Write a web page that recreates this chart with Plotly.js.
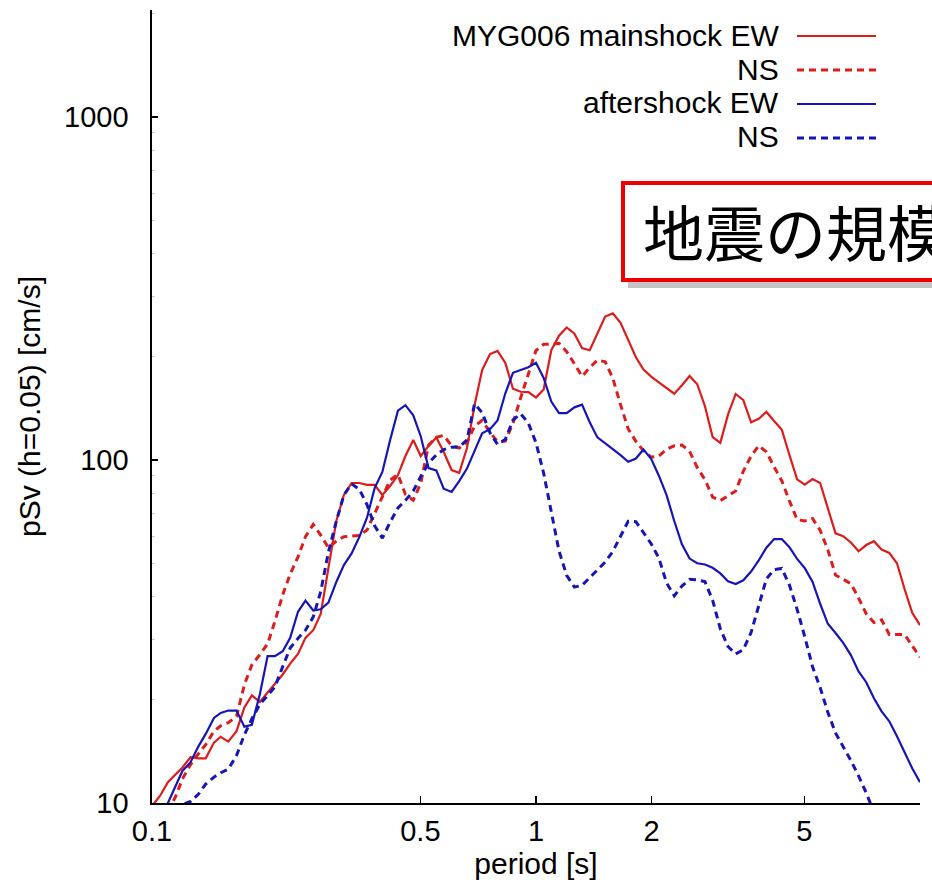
<!DOCTYPE html>
<html>
<head>
<meta charset="utf-8">
<script src="https://cdn.plot.ly/plotly-3.0.1.min.js"></script>
<style>
html, body { margin: 0; padding: 0; background: #ffffff; }
#chart { width: 932px; height: 893px; }
</style>
</head>
<body>
<div id="chart"></div>
<script>
// ---- data (period [s] vs pSv [cm/s], h = 0.05) ----
const periods = [0.1, 0.105, 0.11, 0.115, 0.12, 0.126, 0.132, 0.138, 0.145, 0.151,
  0.158, 0.166, 0.174, 0.182, 0.191, 0.2, 0.209, 0.219, 0.229, 0.24,
  0.251, 0.263, 0.275, 0.288, 0.302, 0.316, 0.331, 0.347, 0.363, 0.38,
  0.398, 0.417, 0.437, 0.457, 0.479, 0.501, 0.525, 0.55, 0.575, 0.603,
  0.631, 0.661, 0.692, 0.724, 0.759, 0.794, 0.832, 0.871, 0.912, 0.955,
  1.0, 1.047, 1.096, 1.148, 1.202, 1.259, 1.318, 1.38, 1.445, 1.514,
  1.585, 1.66, 1.738, 1.82, 1.905, 1.995, 2.089, 2.188, 2.291, 2.399,
  2.512, 2.63, 2.754, 2.884, 3.02, 3.162, 3.311, 3.467, 3.631, 3.802,
  3.981, 4.169, 4.365, 4.571, 4.786, 5.012, 5.248, 5.495, 5.754, 6.026,
  6.31, 6.607, 6.918, 7.244, 7.586, 7.943, 8.318, 8.71, 9.12, 9.55, 10.0];

const mainshockEW = [9.8, 10.5, 11.5, 12.1, 12.7, 13.6, 13.5, 13.5, 15.0, 15.6,
  15.1, 16.2, 19.0, 20.6, 19.7, 21.0, 22.3, 23.7, 25.5, 27.2,
  30.3, 31.9, 35.6, 47.8, 66.4, 79.1, 85.7, 85.7, 84.6, 84.6,
  79.1, 84.0, 90.4, 102.7, 114.4, 102.7, 109.9, 116.4, 105.5, 93.5,
  91.8, 108.4, 144.6, 183, 203.7, 208, 191.8, 161.4, 158.1, 157.7,
  152.2, 160.6, 209, 230.4, 243.4, 233.5, 212, 209, 233.4, 262,
  267.6, 251, 224, 199.3, 183.4, 175, 168.5, 162.6, 156.1, 165.1,
  175.8, 166.3, 143.5, 116.7, 112.2, 135.6, 155.8, 149.5, 128.8, 131.9,
  138.1, 129.9, 122.7, 103.4, 87.8, 84.8, 88.0, 85.7, 71.8, 61.1,
  60.0, 57.5, 54.2, 56.5, 58.0, 54.8, 53.6, 50.0, 42.0, 35.8, 33.0];

const mainshockNS = [7.6, 8.5, 9.4, 10.4, 11.75, 12.95, 13.9, 14.8, 16.2, 16.8,
  17.15, 17.9, 22.1, 25.3, 27.1, 29.1, 33.9, 40.5, 46.5, 52.2,
  59.8, 64.9, 60.4, 55.5, 58.0, 59.8, 60.0, 60.3, 62.5, 69.8,
  78.8, 87.4, 90.7, 79.4, 76.4, 85.6, 110.5, 116.4, 118, 110,
  108.4, 112.3, 125.6, 130.4, 120.5, 113, 113.5, 128, 151.8, 178,
  208.6, 217.5, 217.5, 219, 207, 190.8, 175.4, 186, 195.6, 193.4,
  173.2, 145, 123.3, 113.4, 106.3, 102, 102.7, 107.4, 110, 110.6,
  106, 95, 87.7, 78, 76.2, 78.6, 81.2, 92.8, 102.6, 110.1,
  105.6, 95.5, 87, 76, 67, 66.4, 67.5, 62.4, 54.7, 46.2,
  45, 43.6, 39.6, 35.6, 33.6, 34.2, 31, 31, 31, 28.7, 26.6];

const aftershockEW = [7.9, 8.9, 10.05, 11.2, 12.4, 13.15, 14.6, 15.9, 17.7, 18.3,
  18.6, 18.6, 16.7, 16.9, 20.8, 26.8, 26.8, 27.7, 30.3, 36.1,
  38.9, 36.4, 36.7, 38.4, 44.1, 49.4, 53.4, 59.8, 67.9, 82.8,
  92.3, 114.4, 139.2, 144.5, 135, 117.3, 94.7, 93.3, 82.5, 80.7,
  86.8, 94.4, 106, 119.6, 123, 130.3, 156.5, 179.6, 183, 186.4,
  192, 173.4, 148, 137, 137, 142.4, 145, 128.8, 116.4, 112.2,
  107.6, 103.3, 98.8, 101, 107.3, 100.8, 90, 79, 66.4, 56.8,
  51.6, 50, 49.6, 48.5, 46.7, 44.3, 43.5, 44.6, 47.3, 51,
  55.5, 58.8, 58.8, 55.7, 51.5, 48.4, 44.2, 38.1, 33.3, 31.3,
  29.3, 27.0, 24.2, 22.5, 20.2, 18.5, 17.3, 15.65, 14.1, 12.6, 11.5];

const aftershockNS = [8.0, 8.7, 9.3, 9.8, 9.9, 10.1, 10.6, 11.35, 11.9, 12.25,
  12.55, 13.75, 15.8, 17.6, 19.4, 20.6, 21.8, 25, 28.3, 30.2,
  31.9, 34.9, 41.3, 53.9, 66.3, 79, 85.2, 82, 74.1, 64.3,
  59.2, 65.9, 72.5, 76.2, 81.2, 89.5, 97.9, 103.5, 107.3, 109,
  109.2, 114.4, 146, 137.4, 120, 111.1, 114.9, 130.8, 136.4, 128.2,
  112.3, 91.5, 70.4, 54.3, 46.1, 42.6, 43.1, 45.3, 47.6, 50.4,
  54.1, 60, 66.3, 66.1, 61.3, 57, 51.8, 43.8, 40.2, 42.9,
  44.9, 44.7, 44.2, 39, 32.2, 28.6, 27.2, 28, 31.4, 37.9,
  45, 47.9, 48.3, 43.2, 36.7, 30.5, 25, 21.7, 18.4, 16,
  14.6, 13.3, 12, 10.7, 9.4];

const seriesLabels = ['MYG006 mainshock EW', 'NS', 'aftershock EW', 'NS'];
const xTickVals = [0.1, 0.5, 1, 2, 5];
const xTickText = ['0.1', '0.5', '1', '2', '5'];
const yTickVals = [10, 100, 1000];
const yTickText = ['10', '100', '1000'];
const yMinorVals = [20, 30, 40, 50, 60, 70, 80, 90, 200, 300, 400, 500, 600, 700, 800, 900, 2000];
const xTitle = 'period [s]';
const yTitle = 'pSv (h=0.05) [cm/s]';
const boxText = '地震の規模';

// ---- styling ----
const RED = '#dd1c1c';
const BLUE = '#1616b8';
const FONT = 'Liberation Sans, Arial, Helvetica, sans-serif';
const W = 932, H = 893;
const M = { l: 152, r: 12, t: 10, b: 90 };
const pw = W - M.l - M.r, ph = H - M.t - M.b;
const px2x = p => (p - M.l) / pw;
const px2y = p => (H - M.b - p) / ph;

const styles = [
  { color: RED, dash: 'solid', width: 2.2 },
  { color: RED, dash: '7px,5px', width: 3 },
  { color: BLUE, dash: 'solid', width: 2.2 },
  { color: BLUE, dash: '7px,5px', width: 3 }
];
const seriesData = [mainshockEW, mainshockNS, aftershockEW, aftershockNS];

const traces = seriesData.map((vals, i) => ({
  type: 'scatter',
  mode: 'lines',
  x: periods.slice(0, vals.length),
  y: vals,
  name: seriesLabels[i],
  line: { color: styles[i].color, width: styles[i].width, dash: styles[i].dash },
  showlegend: false,
  hoverinfo: 'x+y'
}));

// custom legend (text right-aligned, sample line on the right)
const legendRows = [35, 69, 103, 137];
const annotations = seriesLabels.map((t, i) => ({
  xref: 'paper', yref: 'paper',
  x: px2x(781), y: px2y(legendRows[i]),
  xanchor: 'right', yanchor: 'middle',
  text: t, showarrow: false,
  font: { family: FONT, size: 30, color: '#000' }
}));
annotations.push({
  xref: 'paper', yref: 'paper',
  x: px2x(641), y: px2y(231),
  xanchor: 'left', yanchor: 'middle',
  text: boxText, showarrow: false,
  font: { family: 'Noto Sans CJK JP, sans-serif', size: 61, color: '#000' }
});

const shapes = [];
// shadow and framed box
shapes.push({ type: 'rect', xref: 'paper', yref: 'paper',
  x0: px2x(628), x1: px2x(1100), y0: px2y(288), y1: px2y(188),
  fillcolor: '#c4c4c4', line: { width: 0 }, layer: 'above' });
shapes.push({ type: 'rect', xref: 'paper', yref: 'paper',
  x0: px2x(623), x1: px2x(1100), y0: px2y(280), y1: px2y(183),
  fillcolor: '#ffffff', line: { color: '#ee0000', width: 4 }, layer: 'above' });
// legend samples
legendRows.forEach((r, i) => {
  shapes.push({ type: 'line', xref: 'paper', yref: 'paper',
    x0: px2x(797), x1: px2x(876), y0: px2y(r + 1), y1: px2y(r + 1),
    line: { color: styles[i].color, width: styles[i].dash === 'solid' ? 2 : 3, dash: styles[i].dash },
    layer: 'above' });
});

const layout = {
  width: W, height: H,
  margin: M,
  paper_bgcolor: '#ffffff', plot_bgcolor: '#ffffff',
  font: { family: FONT, color: '#000' },
  showlegend: false,
  xaxis: {
    type: 'log', range: [-1, 1],
    showline: true, linecolor: '#000', linewidth: 1.6, mirror: false,
    showgrid: false, zeroline: false,
    ticks: 'inside', ticklen: 7, tickwidth: 1.3, tickcolor: '#000',
    tickmode: 'array', tickvals: xTickVals, ticktext: xTickText,
    tickfont: { family: FONT, size: 29, color: '#000' },
    ticklabelstandoff: 2,
    automargin: false,
    title: { text: xTitle, font: { family: FONT, size: 30, color: '#000' }, standoff: 0 }
  },
  yaxis: {
    type: 'log', range: [1, 3.312],
    showline: true, linecolor: '#000', linewidth: 1.6, mirror: false,
    showgrid: false, zeroline: false,
    ticks: 'inside', ticklen: 6, tickwidth: 1.3, tickcolor: '#000',
    tickmode: 'array', tickvals: yTickVals, ticktext: yTickText,
    tickfont: { family: FONT, size: 29, color: '#000' },
    ticklabelstandoff: 16,
    minor: { tickmode: 'array', tickvals: yMinorVals, ticks: 'inside', ticklen: 3, tickwidth: 1, tickcolor: '#c8c8c8', showgrid: false },
    automargin: false,
    title: { text: yTitle, font: { family: FONT, size: 30, color: '#000' }, standoff: 14 }
  },
  shapes: shapes,
  annotations: annotations
};

Plotly.newPlot('chart', traces, layout, { displayModeBar: false, staticPlot: true });
</script>
</body>
</html>
